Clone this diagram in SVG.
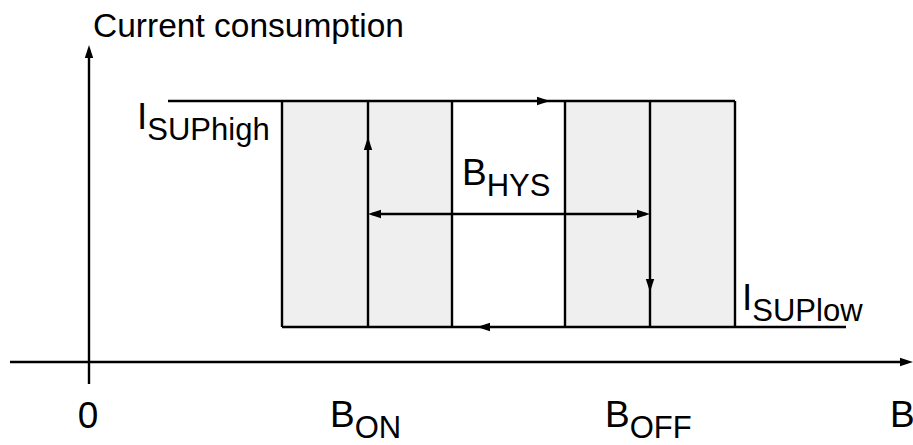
<svg xmlns="http://www.w3.org/2000/svg" xmlns:xlink="http://www.w3.org/1999/xlink" width="913" height="445" viewBox="0 0 913 445">
<style>
.ln{stroke:#000;stroke-width:2.4;fill:none}
.gray{fill:#efefef;stroke:none}
.t{font-family:"Liberation Sans",Arial,sans-serif;fill:#000}
.big{font-size:37px}
.sub{font-size:31px}
.title{font-size:33.5px}
</style>
<defs>
<path id="ah" d="M0,0 L-13,-4.2 L-13,4.2 Z" fill="#000"/>
</defs>
<g id="regions">
<rect class="gray" x="282" y="101" width="170" height="226"/>
<rect class="gray" x="565" y="101" width="170" height="226"/>
</g>
<g id="axes">
<line class="ln" x1="89" y1="384" x2="89" y2="50"/>
<use xlink:href="#ah" transform="translate(89,45) rotate(-90)"/>
<line class="ln" x1="10" y1="362" x2="905" y2="362"/>
<use xlink:href="#ah" transform="translate(913,362)"/>
</g>
<g id="connectors">
<line class="ln" x1="168" y1="101" x2="735" y2="101"/>
<line class="ln" x1="282" y1="327" x2="846" y2="327"/>
<line class="ln" x1="282" y1="101" x2="282" y2="327"/>
<line class="ln" x1="735" y1="101" x2="735" y2="327"/>
<line class="ln" x1="368" y1="101" x2="368" y2="327"/>
<line class="ln" x1="452" y1="101" x2="452" y2="327"/>
<line class="ln" x1="565" y1="101" x2="565" y2="327"/>
<line class="ln" x1="650" y1="101" x2="650" y2="327"/>
<line class="ln" x1="372" y1="214" x2="646" y2="214"/>
<use xlink:href="#ah" transform="translate(550,101)"/>
<use xlink:href="#ah" transform="translate(477,327) rotate(180)"/>
<use xlink:href="#ah" transform="translate(368,137) rotate(-90)"/>
<use xlink:href="#ah" transform="translate(650,292) rotate(90)"/>
<use xlink:href="#ah" transform="translate(368,214) rotate(180)"/>
<use xlink:href="#ah" transform="translate(650,214)"/>
</g>
<g id="labels">
<text class="t title" x="93" y="37">Current consumption</text>
<text class="t big" x="137" y="129">I<tspan class="sub" dy="11">SUPhigh</tspan></text>
<text class="t big" x="742" y="310">I<tspan class="sub" dy="11">SUPlow</tspan></text>
<text class="t big" x="462" y="185">B<tspan class="sub" dy="11">HYS</tspan></text>
<text class="t big" x="88" y="428" text-anchor="middle">0</text>
<text class="t big" x="330" y="427">B<tspan class="sub" dy="11">ON</tspan></text>
<text class="t big" x="605" y="427">B<tspan class="sub" dy="11">OFF</tspan></text>
<text class="t big" x="890" y="427">B</text>
</g>
</svg>
